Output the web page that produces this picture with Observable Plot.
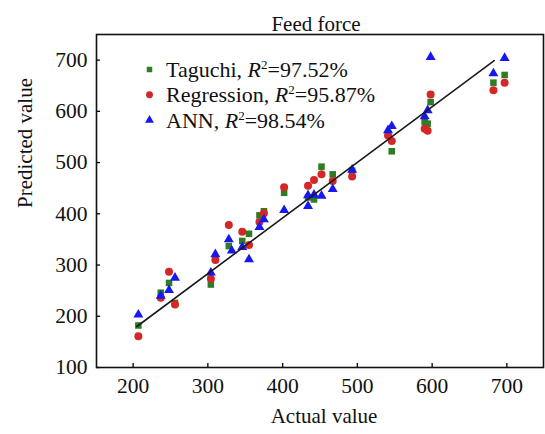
<!DOCTYPE html>
<html>
<head>
<meta charset="utf-8">
<script src="https://cdn.jsdelivr.net/npm/d3@7"></script>
<script src="https://cdn.jsdelivr.net/npm/@observablehq/plot@0.6"></script>
<style>
  html, body { margin: 0; padding: 0; background: #fff; }
  svg { font-family: "Liberation Serif", "Times New Roman", serif; }
</style>
</head>
<body>
<div id="chart"></div>
<script>
const title = "Feed force";
const xLabel = "Actual value";
const yLabel = "Predicted value";
const xTicks = [200, 300, 400, 500, 600, 700];
const yTicks = [100, 200, 300, 400, 500, 600, 700];

const actual     = [207, 237, 248, 256, 304, 310, 328, 332, 346, 355, 369, 375, 402, 434, 434, 442, 452, 467, 493, 541, 546, 590, 594, 598, 682, 697];
const taguchi    = [182, 246, 265, 226, 262, 312, 337, null, 347, 361, 397, 405, 441, 432, null, 428, 492, 477, 484, null, 522, 579, 576, 618, 656, 671];
const regression = [161, 236, 287, 223, 273, 310, 378, null, 365, 339, 384, 401, 452, 455, null, 466, 477, 464, 473, 553, 542, 566, 562, 633, 641, 656];
const ann        = [203, 240, 251, 275, 285, 321, 350, 328, 335, 311, 374, 389, 407, 436, 415, 437, 435, 448, 486, 563, 571, 590, 602, 706, 674, 704];

const fitX = [205, 683];
const fitY = [180, 699];

const seriesNames = ["Taguchi", "Regression", "ANN"];
const seriesR2 = ["97.52%", "95.87%", "98.54%"];
const seriesColors = ["#2e7d23", "#d42727", "#1717f2"];
const seriesSymbols = ["square", "circle", "triangle"];
const seriesValues = [taguchi, regression, ann];
const seriesR = [3.7, 4.0, 3.7];

const rows = (vals) => actual.map((a, i) => ({x: a, y: vals[i]})).filter(d => d.y != null);
const fitData = fitX.map((x, i) => ({x, y: fitY[i]}));

const plot = Plot.plot({
  width: 545,
  height: 434,
  marginLeft: 96,
  marginRight: 2,
  marginTop: 34,
  marginBottom: 67,
  style: {fontFamily: '"Liberation Serif", "Times New Roman", serif', fontSize: "21px", background: "#fff", overflow: "visible"},
  x: {domain: [151, 749], ticks: xTicks},
  y: {domain: [100, 750], ticks: yTicks},
  marks: [
    ...seriesValues.map((vals, i) => Plot.dot(rows(vals), {
      x: "x", y: "y", symbol: () => seriesSymbols[i], fill: seriesColors[i], r: seriesR[i], stroke: "none"
    })),
    Plot.line(fitData, {x: "x", y: "y", stroke: "#1a1a1a", strokeWidth: 1.6}),
    Plot.axisX({ticks: xTicks, tickSize: -4, tickPadding: 14, label: null, fontSize: 21.5, fill: "#111", stroke: "#000", strokeWidth: 1.3}),
    Plot.axisY({ticks: yTicks, tickSize: -4, tickPadding: 13, label: null, fontSize: 21.5, fill: "#111", stroke: "#000", strokeWidth: 1.3}),
    Plot.frame({stroke: "#111", strokeWidth: 1.6}),
    Plot.text([title], {frameAnchor: "top", dy: -18, dx: -4, fontSize: 21, fill: "#111"}),
    Plot.text([xLabel], {frameAnchor: "bottom", dy: 55, dx: 4, fontSize: 21, fill: "#111"}),
    Plot.text([yLabel], {frameAnchor: "left", dx: -71, dy: 7, rotate: -90, fontSize: 21, fill: "#111"})
  ]
});

document.getElementById("chart").appendChild(plot);

// Legend inside the frame (top-left)
const svg = d3.select(plot);
const lg = svg.append("g").attr("class", "legend").attr("text-anchor", "start");
const symMap = {square: d3.symbolSquare, circle: d3.symbolCircle, triangle: d3.symbolTriangle};
const legSize = [30, 38, 34];
seriesNames.forEach((name, i) => {
  const cy = 69.5 + i * 25.3;
  lg.append("path")
    .attr("d", d3.symbol(symMap[seriesSymbols[i]], legSize[i])())
    .attr("transform", `translate(149.5,${cy})`)
    .attr("fill", seriesColors[i]);
  const t = lg.append("text")
    .attr("x", 166)
    .attr("y", cy + 7.5)
    .attr("font-size", 22)
    .attr("text-anchor", "start")
    .attr("fill", "#111");
  t.append("tspan").text(name + ", ");
  t.append("tspan").attr("font-style", "italic").text("R");
  t.append("tspan").attr("font-size", 13).attr("dy", -8).text("2");
  t.append("tspan").attr("dy", 8).text("=" + seriesR2[i]);
});
</script>
</body>
</html>
